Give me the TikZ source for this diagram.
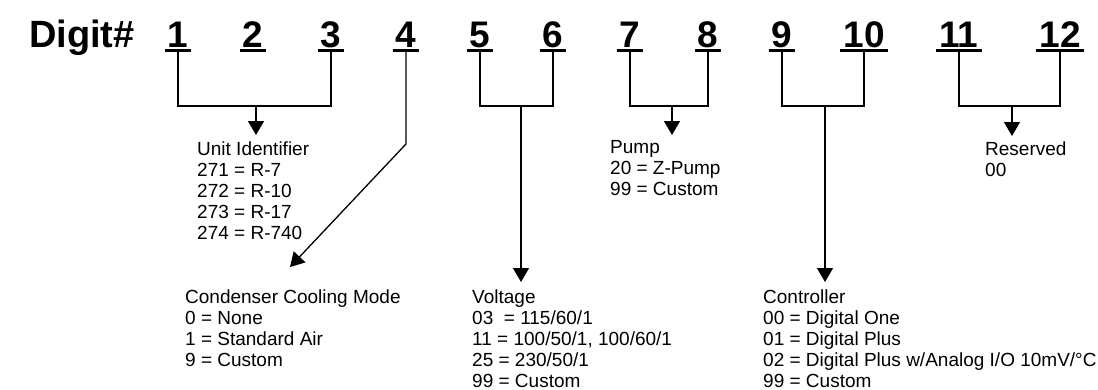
\documentclass[tikz,border=0pt]{standalone}
\usepackage{fontspec}
\setmainfont{Liberation Sans}
\usetikzlibrary{arrows.meta}
\tikzset{
  digit/.style={font=\fontsize{37}{40}\selectfont\bfseries, anchor=base, inner xsep=3pt, inner ysep=3pt},
  uline/.style={line width=2.8pt},
  link/.style={line width=1.3pt},
  arr/.style={link, -{Triangle[length=14pt,width=16pt]}},
  code/.style={font=\fontsize{19}{21}\selectfont, anchor=base west, align=left, inner sep=0pt}
}

\begin{document}
\begin{tikzpicture}[x=1pt, y=-1pt]
  \useasboundingbox (0,0) rectangle (1098,389);
  \node[font=\fontsize{38}{40}\selectfont\bfseries, anchor=base west, inner sep=0pt] (title) at (29,47) {Digit\#};
  \foreach \n/\x in {1/178, 2/253, 3/331, 4/406, 5/480, 6/553, 7/630, 8/708, 9/782, 10/864, 11/959, 12/1060} {
    \node[digit] (d\n) at (\x,47) {\n};
    \draw[uline] (d\n.south west) -- (d\n.south east);
  }

  % base west of a multi-line node sits on its last line
  \node[code] (unit) at (197,239) {Unit Identifier\\271 = R-7\\272 = R-10\\273 = R-17\\274 = R-740};
  \node[code] (cond) at (185,366) {Condenser Cooling Mode\\0 = None\\1 = Standard Air\\9 = Custom};
  \node[code] (volt) at (472,387) {Voltage\\03\ \ = 115/60/1\\11 = 100/50/1, 100/60/1\\25 = 230/50/1\\99 = Custom};
  \node[code] (pump) at (610,195) {Pump\\20 = Z-Pump\\99 = Custom};
  \node[code] (ctrl) at (763,387) {Controller\\00 = Digital One\\01 = Digital Plus\\02 = Digital Plus w/Analog I/O 10mV/°C\\99 = Custom};
  \node[code] (resv) at (985,176) {Reserved\\00};

  \coordinate (m13) at (256,106);
  \coordinate (m56) at (521,106);
  \coordinate (m78) at (672,106);
  \coordinate (m910) at (825,106);
  \coordinate (m1112) at (1012,106);
  \coordinate (k4) at (406,144);
  \coordinate (t4) at (290,267);

  \draw[link] (d1.south) |- (m13) -| (d3.south);
  \draw[link] (d5.south) |- (m56) -| (d6.south);
  \draw[link] (d7.south) |- (m78) -| (d8.south);
  \draw[link] (d9.south) |- (m910) -| (d10.south);
  \draw[link] (d11.south) |- (m1112) -| (d12.south);

  \draw[arr] (m13) -- (m13 |- 0,135);
  \draw[arr] (d4.south) -- (k4) -- (t4);
  \draw[arr] (m56) -- (m56 |- 0,282);
  \draw[arr] (m78) -- (m78 |- 0,135);
  \draw[arr] (m910) -- (m910 |- 0,282);
  \draw[arr] (m1112) -- (m1112 |- 0,136);
\end{tikzpicture}
\end{document}
